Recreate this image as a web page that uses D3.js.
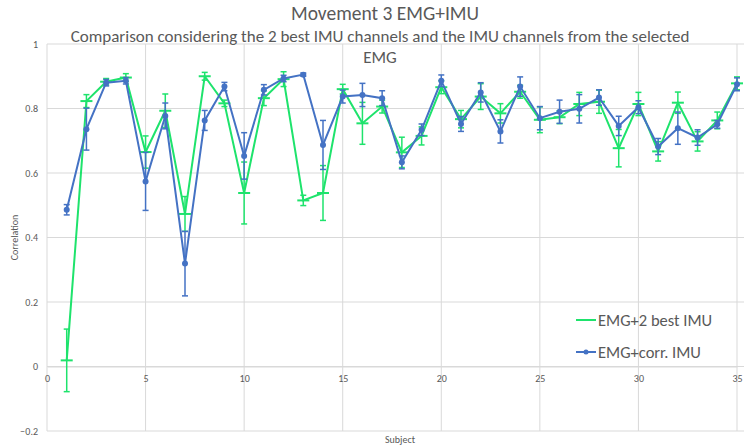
<!DOCTYPE html>
<html>
<head>
<meta charset="utf-8">
<script src="https://cdn.jsdelivr.net/npm/d3@7"></script>
<style>
  body { margin: 0; background: #fff; }
  text { font-family: Calibri, Carlito, "Open Sans", sans-serif; }
</style>
</head>
<body>
<div id="chart"></div>
<script>
// subjects 1..35
const subjects = d3.range(1, 36)

// EMG+2 best IMU
const bestVals = [0.019, 0.823, 0.883, 0.896, 0.665, 0.793, 0.473, 0.900, 0.816, 0.538,
                  0.832, 0.891, 0.515, 0.538, 0.860, 0.754, 0.806, 0.664, 0.715, 0.866,
                  0.767, 0.837, 0.785, 0.852, 0.765, 0.773, 0.814, 0.821, 0.677, 0.814,
                  0.667, 0.818, 0.698, 0.763, 0.878]
const bestErr = [0.097, 0.020, 0.010, 0.012, 0.050, 0.052, 0.054, 0.012, 0.010, 0.096,
                 0.023, 0.023, 0.016, 0.085, 0.015, 0.065, 0.020, 0.047, 0.028, 0.020,
                 0.027, 0.040, 0.030, 0.020, 0.040, 0.020, 0.036, 0.036, 0.058, 0.036,
                 0.030, 0.033, 0.030, 0.026, 0.020]

// EMG+corr. IMU
const corrVals = [0.486, 0.736, 0.880, 0.886, 0.574, 0.777, 0.319, 0.763, 0.868, 0.653,
                  0.858, 0.893, 0.905, 0.687, 0.837, 0.842, 0.832, 0.633, 0.734, 0.886,
                  0.752, 0.850, 0.729, 0.868, 0.770, 0.790, 0.799, 0.834, 0.746, 0.804,
                  0.682, 0.739, 0.710, 0.751, 0.875]
const corrErr = [0.016, 0.065, 0.010, 0.010, 0.090, 0.040, 0.100, 0.031, 0.013, 0.072,
                 0.016, 0.010, 0.005, 0.076, 0.020, 0.036, 0.023, 0.020, 0.018, 0.018,
                 0.023, 0.030, 0.036, 0.030, 0.036, 0.036, 0.044, 0.024, 0.030, 0.020,
                 0.025, 0.050, 0.024, 0.012, 0.020]

const xTicks = [0, 5, 10, 15, 20, 25, 30, 35]
const yTicks = [-0.2, 0, 0.2, 0.4, 0.6, 0.8, 1]

const series = [
  {name: "EMG+2 best IMU", color: "#1ee36c", vals: bestVals, err: bestErr, marker: "dash"},
  {name: "EMG+corr. IMU", color: "#4472c4", vals: corrVals, err: corrErr, marker: "dot"}
]

const width = 745, height = 446
const margin = {top: 44, right: 7, bottom: 15, left: 47}

const svg = d3.select("#chart").append("svg")
  .attr("width", width)
  .attr("height", height)

const x = d3.scaleLinear().domain([0, 35]).range([margin.left, 737])
const y = d3.scaleLinear().domain([-0.2, 1]).range([431, margin.top])

// gridlines
svg.append("g")
  .selectAll("line.h")
  .data(yTicks)
  .join("line")
    .attr("x1", margin.left).attr("x2", 744)
    .attr("y1", d => y(d)).attr("y2", d => y(d))
    .attr("stroke", "#d9d9d9")
    .attr("stroke-width", 1)

svg.append("g")
  .selectAll("line.v")
  .data(xTicks)
  .join("line")
    .attr("x1", d => x(d)).attr("x2", d => x(d))
    .attr("y1", y(1)).attr("y2", y(-0.2))
    .attr("stroke", "#d9d9d9")
    .attr("stroke-width", 1)

// y axis labels
svg.append("g")
  .attr("transform", `translate(${margin.left},0)`)
  .call(d3.axisLeft(y).tickValues(yTicks).tickSize(0).tickPadding(9)
          .tickFormat(d => d3.format("")(+d.toFixed(1))))
  .call(g => g.select(".domain").remove())
  .call(g => g.selectAll("text")
      .attr("fill", "#595959")
      .style("font-size", "10px"))

// x axis labels (crossing at 0)
svg.append("g")
  .attr("transform", `translate(0,${y(0)})`)
  .call(d3.axisBottom(x).tickValues(xTicks).tickSize(0).tickPadding(8))
  .call(g => g.select(".domain").attr("stroke", "#d9d9d9"))
  .call(g => g.selectAll("text")
      .attr("fill", "#595959")
      .style("font-size", "10px"))

// axis titles
svg.append("text")
  .attr("x", 400).attr("y", 443)
  .attr("text-anchor", "middle")
  .attr("fill", "#595959")
  .style("font-size", "10px")
  .text("Subject")

svg.append("text")
  .attr("transform", `translate(18,${y(0.4)}) rotate(-90)`)
  .attr("text-anchor", "middle")
  .attr("fill", "#595959")
  .style("font-size", "10px")
  .text("Correlation")

// titles
svg.append("text")
  .attr("x", 385).attr("y", 20)
  .attr("text-anchor", "middle")
  .attr("fill", "#595959")
  .style("font-size", "19.5px")
  .text("Movement 3 EMG+IMU")

svg.append("text")
  .attr("x", 380).attr("y", 42)
  .attr("text-anchor", "middle")
  .attr("fill", "#595959")
  .style("font-size", "17px")
  .text("Comparison considering the 2 best IMU channels and the IMU channels from the selected")

svg.append("text")
  .attr("x", 380).attr("y", 63)
  .attr("text-anchor", "middle")
  .attr("fill", "#595959")
  .style("font-size", "17px")
  .text("EMG")

const line = d3.line()
  .x((d, i) => x(subjects[i]))
  .y(d => y(d))

series.forEach(s => {
  const g = svg.append("g")

  g.append("path")
    .datum(s.vals)
    .attr("fill", "none")
    .attr("stroke", s.color)
    .attr("stroke-width", 2)
    .attr("d", line)

  const bars = g.selectAll("g.err")
    .data(subjects)
    .join("g")

  bars.append("line")
    .attr("x1", d => x(d)).attr("x2", d => x(d))
    .attr("y1", (d, i) => y(s.vals[i] + s.err[i]))
    .attr("y2", (d, i) => y(s.vals[i] - s.err[i]))
    .attr("stroke", s.color)
    .attr("stroke-width", 1.5)

  ;[1, -1].forEach(sign => {
    bars.append("line")
      .attr("x1", d => x(d) - 3).attr("x2", d => x(d) + 3)
      .attr("y1", (d, i) => y(s.vals[i] + sign * s.err[i]))
      .attr("y2", (d, i) => y(s.vals[i] + sign * s.err[i]))
      .attr("stroke", s.color)
      .attr("stroke-width", 1.5)
  })

  if (s.marker === "dot") {
    bars.append("circle")
      .attr("cx", d => x(d))
      .attr("cy", (d, i) => y(s.vals[i]))
      .attr("r", 3)
      .attr("fill", s.color)
  } else {
    bars.append("line")
      .attr("x1", d => x(d) - 6).attr("x2", d => x(d) + 6)
      .attr("y1", (d, i) => y(s.vals[i]))
      .attr("y2", (d, i) => y(s.vals[i]))
      .attr("stroke", s.color)
      .attr("stroke-width", 2)
  }
})

// legend
const legend = svg.append("g").attr("transform", "translate(576,320)")
series.forEach((s, i) => {
  const row = legend.append("g").attr("transform", `translate(0,${i * 32})`)
  row.append("line")
    .attr("x1", 0).attr("x2", 20)
    .attr("stroke", s.color).attr("stroke-width", 2)
  if (s.marker === "dot") {
    row.append("circle").attr("cx", 10).attr("r", 2.5).attr("fill", s.color)
  }
  row.append("text")
    .attr("x", 22).attr("dy", "0.35em")
    .attr("fill", "#595959")
    .style("font-size", "16.5px")
    .text(s.name)
})
</script>
</body>
</html>
